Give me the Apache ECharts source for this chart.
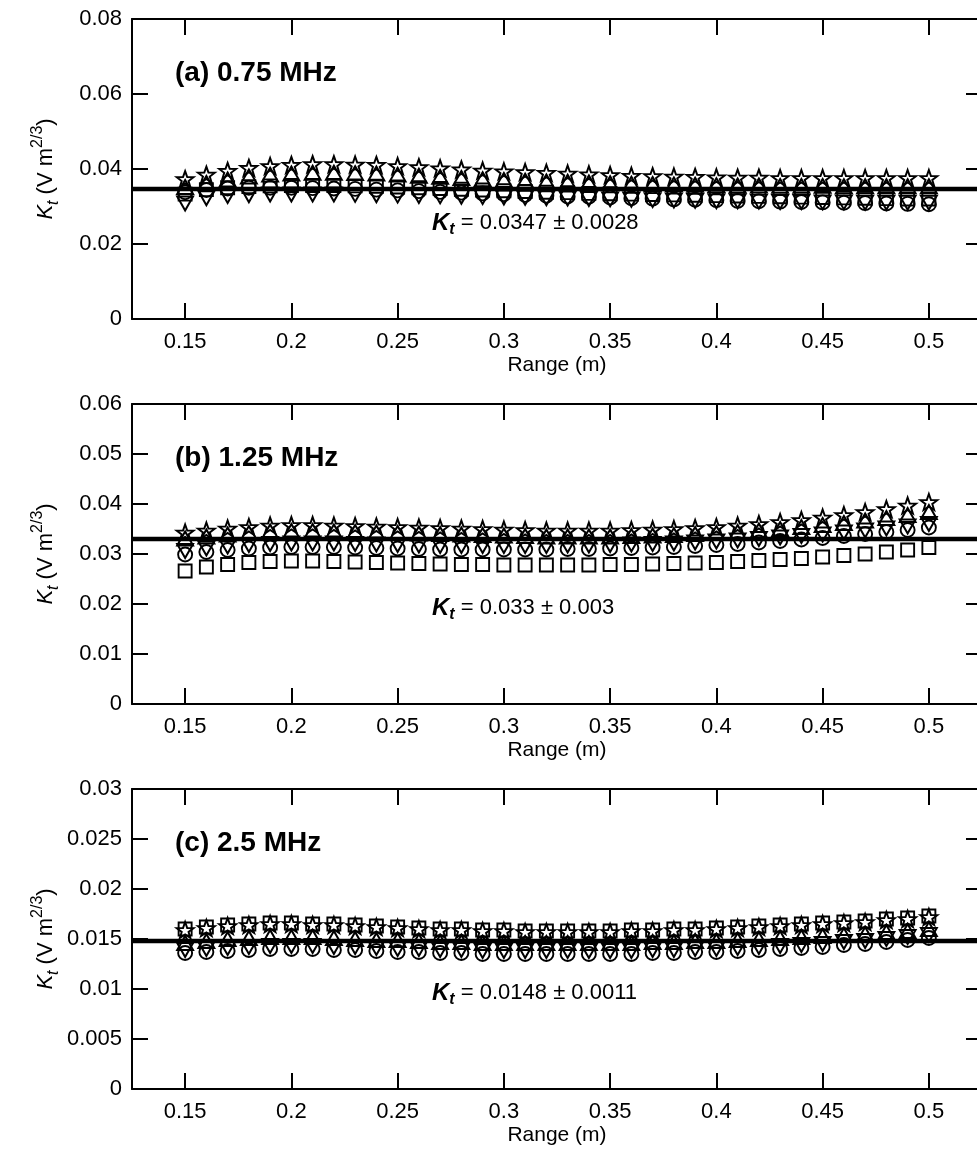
<!DOCTYPE html>
<html>
<head>
<meta charset="utf-8">
<script src="https://cdn.jsdelivr.net/npm/echarts@6/dist/echarts.min.js"></script>
<style>
  html, body { margin: 0; padding: 0; background: #fff; }
  #chart { width: 977px; height: 1157px; }
</style>
</head>
<body>
<div id="chart"></div>
<script>
// Range bins (m) shared by all three frequencies
const rangeM = [0.15, 0.16, 0.17, 0.18, 0.19, 0.20, 0.21, 0.22, 0.23, 0.24, 0.25, 0.26,
  0.27, 0.28, 0.29, 0.30, 0.31, 0.32, 0.33, 0.34, 0.35, 0.36, 0.37, 0.38,
  0.39, 0.40, 0.41, 0.42, 0.43, 0.44, 0.45, 0.46, 0.47, 0.48, 0.49, 0.50];

// x extent, tick positions and their labels
const xExtent = [0.125, 0.525];
const xTickValues = [0.15, 0.2, 0.25, 0.3, 0.35, 0.4, 0.45, 0.5];
const xTickLabels = ['0.15', '0.2', '0.25', '0.3', '0.35', '0.4', '0.45', '0.5'];

// Panel headings, y ranges and fitted constants
const panelTitles = ['(a) 0.75 MHz', '(b) 1.25 MHz', '(c) 2.5 MHz'];
const yMax = [0.08, 0.06, 0.03];
const yStep = [0.02, 0.01, 0.005];
const meanKt = [0.0347, 0.033, 0.0148];
const sdKt = [0.0028, 0.003, 0.0011];

// (a) 0.75 MHz
const aStar = [0.0373, 0.0385, 0.0395, 0.0403, 0.0408, 0.0411, 0.0413, 0.0413, 0.0412, 0.0411, 0.0408, 0.0405,
  0.0402, 0.0399, 0.0396, 0.0394, 0.0392, 0.0390, 0.0388, 0.0386, 0.0384, 0.0382, 0.0381, 0.0380,
  0.0379, 0.0378, 0.0377, 0.0377, 0.0376, 0.0376, 0.0376, 0.0376, 0.0376, 0.0376, 0.0376, 0.0376];
const aTriUp = [0.0352, 0.0363, 0.0372, 0.0380, 0.0385, 0.0388, 0.0390, 0.0390, 0.0389, 0.0388, 0.0385, 0.0382,
  0.0379, 0.0376, 0.0373, 0.0371, 0.0369, 0.0367, 0.0366, 0.0364, 0.0362, 0.0361, 0.0360, 0.0359,
  0.0358, 0.0357, 0.0356, 0.0356, 0.0355, 0.0355, 0.0355, 0.0354, 0.0354, 0.0354, 0.0354, 0.0354];
const aSquare = [0.0333, 0.0345, 0.0350, 0.0353, 0.0355, 0.0356, 0.0356, 0.0356, 0.0355, 0.0354, 0.0352, 0.0350,
  0.0348, 0.0346, 0.0344, 0.0342, 0.0340, 0.0338, 0.0337, 0.0335, 0.0334, 0.0333, 0.0332, 0.0331,
  0.0330, 0.0329, 0.0328, 0.0327, 0.0326, 0.0325, 0.0324, 0.0323, 0.0322, 0.0321, 0.0320, 0.0320];
const aCircle = [0.0338, 0.0344, 0.0348, 0.0350, 0.0350, 0.0350, 0.0349, 0.0348, 0.0347, 0.0345, 0.0343, 0.0341,
  0.0339, 0.0337, 0.0335, 0.0333, 0.0331, 0.0329, 0.0327, 0.0326, 0.0324, 0.0322, 0.0321, 0.0319,
  0.0318, 0.0317, 0.0315, 0.0314, 0.0313, 0.0312, 0.0311, 0.0310, 0.0309, 0.0308, 0.0307, 0.0306];
const aTriDown = [0.0308, 0.0322, 0.0328, 0.0330, 0.0332, 0.0332, 0.0332, 0.0332, 0.0331, 0.0330, 0.0329, 0.0328,
  0.0327, 0.0326, 0.0325, 0.0324, 0.0323, 0.0322, 0.0321, 0.0320, 0.0319, 0.0318, 0.0317, 0.0316,
  0.0315, 0.0314, 0.0314, 0.0313, 0.0312, 0.0312, 0.0311, 0.0311, 0.0310, 0.0310, 0.0310, 0.0310];

// (b) 1.25 MHz
const bStar = [0.0343, 0.0347, 0.0351, 0.0354, 0.0357, 0.0358, 0.0358, 0.0357, 0.0356, 0.0355, 0.0354, 0.0353,
  0.0352, 0.0351, 0.0350, 0.0349, 0.0348, 0.0347, 0.0347, 0.0347, 0.0347, 0.0348, 0.0349, 0.0350,
  0.0352, 0.0354, 0.0357, 0.0360, 0.0364, 0.0368, 0.0373, 0.0378, 0.0384, 0.0390, 0.0397, 0.0404];
const bTriUp = [0.0331, 0.0335, 0.0339, 0.0342, 0.0345, 0.0346, 0.0346, 0.0345, 0.0344, 0.0343, 0.0342, 0.0341,
  0.0340, 0.0339, 0.0338, 0.0337, 0.0336, 0.0335, 0.0335, 0.0335, 0.0335, 0.0336, 0.0337, 0.0338,
  0.0340, 0.0342, 0.0344, 0.0347, 0.0350, 0.0354, 0.0358, 0.0362, 0.0367, 0.0372, 0.0378, 0.0384];
const bSquare = [0.0266, 0.0274, 0.0279, 0.0283, 0.0285, 0.0286, 0.0286, 0.0285, 0.0284, 0.0283, 0.0282, 0.0281,
  0.0280, 0.0279, 0.0279, 0.0278, 0.0278, 0.0278, 0.0278, 0.0278, 0.0279, 0.0279, 0.0280, 0.0281,
  0.0282, 0.0283, 0.0285, 0.0287, 0.0289, 0.0291, 0.0294, 0.0297, 0.0300, 0.0304, 0.0308, 0.0313];
const bCircle = [0.0299, 0.0304, 0.0308, 0.0311, 0.0313, 0.0314, 0.0314, 0.0314, 0.0313, 0.0312, 0.0311, 0.0310,
  0.0309, 0.0309, 0.0309, 0.0309, 0.0309, 0.0309, 0.0310, 0.0310, 0.0311, 0.0312, 0.0313, 0.0314,
  0.0316, 0.0318, 0.0320, 0.0323, 0.0326, 0.0329, 0.0332, 0.0336, 0.0340, 0.0344, 0.0348, 0.0353];
const bTriDown = [0.0306, 0.0311, 0.0315, 0.0318, 0.0320, 0.0321, 0.0321, 0.0321, 0.0320, 0.0319, 0.0318, 0.0317,
  0.0316, 0.0316, 0.0316, 0.0316, 0.0316, 0.0316, 0.0317, 0.0317, 0.0318, 0.0319, 0.0320, 0.0321,
  0.0323, 0.0325, 0.0327, 0.0330, 0.0333, 0.0336, 0.0339, 0.0343, 0.0347, 0.0351, 0.0355, 0.0360];

// (c) 2.5 MHz
const cStar = [0.0159, 0.0161, 0.0163, 0.0164, 0.0165, 0.0165, 0.0164, 0.0164, 0.0163, 0.0162, 0.0161, 0.0160,
  0.0159, 0.0159, 0.0158, 0.0158, 0.0157, 0.0157, 0.0157, 0.0157, 0.0157, 0.0158, 0.0158, 0.0159,
  0.0159, 0.0160, 0.0161, 0.0162, 0.0163, 0.0164, 0.0165, 0.0166, 0.0167, 0.0169, 0.0170, 0.0172];
const cTriUp = [0.0146, 0.0148, 0.0150, 0.0151, 0.0152, 0.0152, 0.0152, 0.0151, 0.0150, 0.0149, 0.0149, 0.0148,
  0.0147, 0.0147, 0.0146, 0.0146, 0.0146, 0.0146, 0.0146, 0.0146, 0.0146, 0.0146, 0.0147, 0.0147,
  0.0148, 0.0148, 0.0149, 0.0150, 0.0151, 0.0152, 0.0153, 0.0154, 0.0155, 0.0157, 0.0158, 0.0160];
const cSquare = [0.0160, 0.0162, 0.0164, 0.0165, 0.0166, 0.0166, 0.0165, 0.0165, 0.0164, 0.0163, 0.0162, 0.0161,
  0.0160, 0.0160, 0.0159, 0.0159, 0.0158, 0.0158, 0.0158, 0.0158, 0.0158, 0.0159, 0.0159, 0.0160,
  0.0160, 0.0161, 0.0162, 0.0163, 0.0164, 0.0165, 0.0166, 0.0167, 0.0168, 0.0170, 0.0171, 0.0173];
const cCircle = [0.0136, 0.0137, 0.0138, 0.0139, 0.0140, 0.0140, 0.0140, 0.0139, 0.0139, 0.0138, 0.0137, 0.0137,
  0.0136, 0.0136, 0.0135, 0.0135, 0.0135, 0.0135, 0.0135, 0.0135, 0.0135, 0.0135, 0.0136, 0.0136,
  0.0137, 0.0137, 0.0138, 0.0139, 0.0140, 0.0141, 0.0142, 0.0144, 0.0145, 0.0147, 0.0149, 0.0151];
const cTriDown = [0.0139, 0.0140, 0.0141, 0.0142, 0.0143, 0.0143, 0.0143, 0.0142, 0.0142, 0.0141, 0.0140, 0.0140,
  0.0139, 0.0139, 0.0138, 0.0138, 0.0138, 0.0138, 0.0138, 0.0138, 0.0138, 0.0138, 0.0139, 0.0139,
  0.0140, 0.0140, 0.0141, 0.0142, 0.0143, 0.0144, 0.0145, 0.0147, 0.0148, 0.0150, 0.0152, 0.0154];

const panelData = [
  [aSquare, aCircle, aTriDown, aTriUp, aStar],
  [bSquare, bCircle, bTriDown, bTriUp, bStar],
  [cSquare, cCircle, cTriDown, cTriUp, cStar]
];

// ---- drawing ----
const FONT = '"Liberation Sans", Arial, Helvetica, sans-serif';
const STAR = 'path://M50 0L61.76 33.82L97.55 34.55L69.02 56.18L79.39 90.45L50 70L20.61 90.45L30.98 56.18L2.45 34.55L38.24 33.82Z';
const TRI_UP = 'path://M50 0L100 87L0 87Z';
const TRI_DOWN = 'path://M0 0L100 0L50 87Z';
const markers = [
  { symbol: 'rect', size: 13 },
  { symbol: 'circle', size: 14 },
  { symbol: TRI_DOWN, size: [16, 14] },
  { symbol: TRI_UP, size: [16, 14] },
  { symbol: STAR, size: [17, 16] }
];

const gridTops = [19, 404, 789];
const GRID_LEFT = 132, GRID_W = 850, GRID_H = 300;

const axisLineStyle = { color: '#000', width: 2 };
const tickStyle = { color: '#000', width: 2 };

const grid = [], xAxis = [], yAxis = [], series = [], graphic = [];

gridTops.forEach((top, i) => {
  grid.push({ left: GRID_LEFT, top: top, width: GRID_W, height: GRID_H, containLabel: false, outerBoundsMode: 'none' });

  // bottom x axis with labels
  xAxis.push({
    type: 'value', gridIndex: i, position: 'bottom', min: xExtent[0], max: xExtent[1],
    axisLine: { show: true, onZero: false, lineStyle: axisLineStyle },
    axisTick: { show: true, inside: true, length: 16, customValues: xTickValues, lineStyle: tickStyle },
    axisLabel: {
      show: true, customValues: xTickValues, margin: 12,
      formatter: v => xTickLabels[xTickValues.findIndex(t => Math.abs(t - v) < 1e-9)] || '',
      color: '#000', fontSize: 22, fontFamily: FONT
    },
    splitLine: { show: false },
    name: 'Range (m)', nameLocation: 'middle', nameGap: 36, nameMoveOverlap: false,
    nameTextStyle: { color: '#000', fontSize: 21, fontFamily: FONT }
  });
  // top mirror axis
  xAxis.push({
    type: 'value', gridIndex: i, position: 'top', min: xExtent[0], max: xExtent[1],
    axisLine: { show: true, onZero: false, lineStyle: axisLineStyle },
    axisTick: { show: true, inside: true, length: 16, customValues: xTickValues, lineStyle: tickStyle },
    axisLabel: { show: false }, splitLine: { show: false }
  });

  // left y axis with labels
  yAxis.push({
    type: 'value', gridIndex: i, position: 'left', min: 0, max: yMax[i], interval: yStep[i],
    axisLine: { show: true, onZero: false, lineStyle: axisLineStyle },
    axisTick: { show: true, inside: true, length: 16, lineStyle: tickStyle },
    axisLabel: { color: '#000', fontSize: 22, fontFamily: FONT, margin: 10 },
    splitLine: { show: false },
    name: '{k|K}{t|t} (V m{s|2/3})',
    nameLocation: 'middle', nameRotate: 90, nameGap: 70, nameMoveOverlap: false,
    nameTextStyle: {
      color: '#000', fontSize: 22, fontFamily: FONT, lineHeight: 32,
      rich: {
        k: { fontStyle: 'italic', fontSize: 22, fontFamily: FONT, color: '#000' },
        t: { fontStyle: 'italic', fontSize: 16, fontFamily: FONT, color: '#000', verticalAlign: 'bottom', lineHeight: 20 },
        s: { fontSize: 16, fontFamily: FONT, color: '#000', verticalAlign: 'top', lineHeight: 20 }
      }
    }
  });
  // right mirror axis
  yAxis.push({
    type: 'value', gridIndex: i, position: 'right', min: 0, max: yMax[i], interval: yStep[i],
    axisLine: { show: true, onZero: false, lineStyle: axisLineStyle },
    axisTick: { show: true, inside: true, length: 16, lineStyle: tickStyle },
    axisLabel: { show: false }, splitLine: { show: false }
  });

  const xIdx = i * 2, yIdx = i * 2;
  panelData[i].forEach((vals, m) => {
    series.push({
      type: 'scatter', xAxisIndex: xIdx, yAxisIndex: yIdx,
      data: rangeM.map((x, k) => [x, vals[k]]),
      symbol: markers[m].symbol, symbolSize: markers[m].size,
      itemStyle: { color: 'rgba(0,0,0,0)', borderColor: '#000', borderWidth: 1.9, opacity: 1 },
      emphasis: { disabled: true }, silent: true, z: 2
    });
  });

  // fitted mean K_t across the whole range
  series.push({
    type: 'line', xAxisIndex: xIdx, yAxisIndex: yIdx,
    data: [[xExtent[0], meanKt[i]], [xExtent[1], meanKt[i]]],
    symbol: 'none', silent: true, z: 5,
    lineStyle: { color: '#000', width: 4.5 },
    emphasis: { disabled: true }
  });

  // panel heading
  graphic.push({
    type: 'text', x: 175, y: top + 54, silent: true,
    style: { text: panelTitles[i], fontSize: 28, fontWeight: 'bold', fontFamily: FONT, fill: '#000', verticalAlign: 'middle' }
  });
  // fitted constant
  graphic.push({
    type: 'text', x: 432, y: top + 204, silent: true,
    style: {
      text: '{k|K}{t|t}{n| = ' + meanKt[i] + ' \u00B1 ' + sdKt[i] + '}',
      fontFamily: FONT, fill: '#000', verticalAlign: 'middle', lineHeight: 30,
      rich: {
        k: { fontSize: 24, fontWeight: 'bold', fontStyle: 'italic', fontFamily: FONT, fill: '#000', lineHeight: 30 },
        t: { fontSize: 16, fontWeight: 'bold', fontStyle: 'italic', fontFamily: FONT, fill: '#000', verticalAlign: 'bottom', lineHeight: 18 },
        n: { fontSize: 22, fontFamily: FONT, fill: '#000', lineHeight: 30 }
      }
    }
  });
});

const chart = echarts.init(document.getElementById('chart'), null, { renderer: 'canvas' });
chart.setOption({
  animation: false,
  backgroundColor: '#fff',
  grid, xAxis, yAxis, series, graphic
});
</script>
</body>
</html>
